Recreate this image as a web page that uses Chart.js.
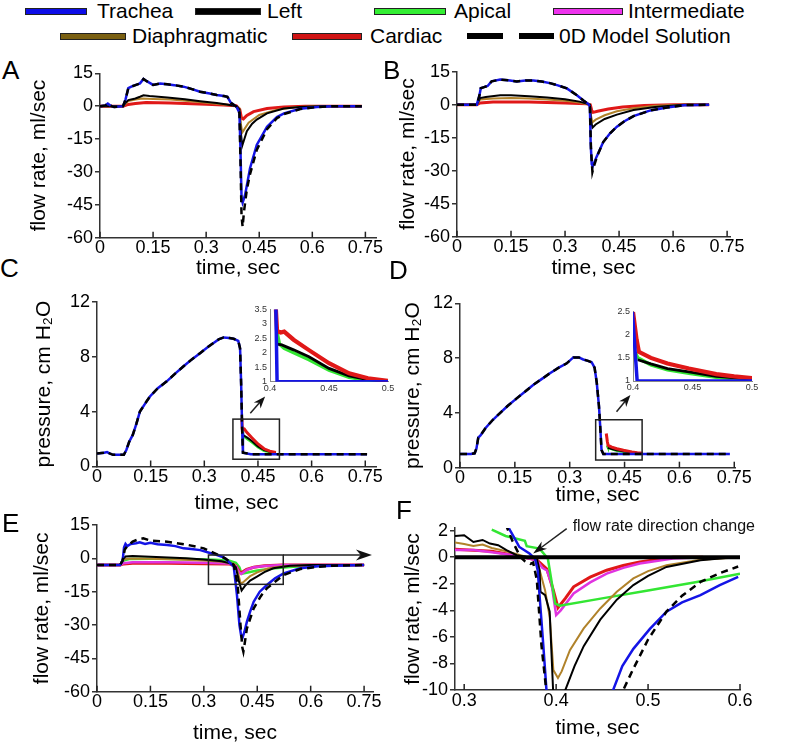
<!DOCTYPE html>
<html>
<head>
<meta charset="utf-8">
<script src="https://cdn.jsdelivr.net/npm/chart.js@4.4.0/dist/chart.umd.min.js"></script>
<style>
  body { margin: 0; background: #fff; }
  #fig { position: relative; width: 800px; height: 744px; overflow: hidden; background: #fff;
         font-family: "Liberation Sans", Arial, sans-serif; color: #000; }
  .panel { position: absolute; }
  .tag { position: absolute; font-size: 26px; line-height: 1; }
  .legtext { position: absolute; font-size: 21px; line-height: 21px; white-space: nowrap; }
  .sw { position: absolute; height: 5px; border: 1px solid #222; }
</style>
</head>
<body>
<div id="fig"></div>
<script>
// ---- legend ----
const seriesNames = ['Trachea', 'Left', 'Apical', 'Intermediate', 'Diaphragmatic', 'Cardiac', '0D Model Solution'];
const legendSwatch = ['#0d0de8', '#000000', '#33ee33', '#ee33ee', '#7a6012', '#d01414', 'dash'];

// ---- A: flow rate, normal breath ----
const aTrachea = [[0,0],[0.015,0.3],[0.022,1.2],[0.03,0.2],[0.04,-0.4],[0.065,0],[0.072,3],[0.08,8.2],[0.09,9],[0.1,9.6],[0.113,10.4],[0.123,12.4],[0.132,11.4],[0.15,9.7],[0.17,10.3],[0.19,10],[0.21,9.6],[0.236,8.9],[0.26,7.8],[0.283,6.6],[0.31,5.8],[0.33,5.1],[0.35,4.6],[0.36,4.3],[0.37,1.5],[0.386,-0.3],[0.394,-3],[0.397,-20],[0.4,-42],[0.403,-44],[0.41,-40.5],[0.424,-28.3],[0.443,-17.7],[0.472,-9.4],[0.5,-5],[0.52,-3.3],[0.566,-1.2],[0.613,-0.4],[0.66,0],[0.74,0]];
const aModel = [[0,0],[0.015,0.3],[0.022,1.2],[0.03,0.2],[0.04,-0.4],[0.065,0],[0.072,3],[0.08,8.2],[0.09,9],[0.1,9.6],[0.113,10.4],[0.123,12.4],[0.132,11.4],[0.15,9.7],[0.17,10.3],[0.19,10],[0.21,9.6],[0.236,8.9],[0.26,7.8],[0.283,6.6],[0.31,5.8],[0.33,5.1],[0.35,4.6],[0.36,4.3],[0.37,1.5],[0.386,-0.3],[0.394,-3],[0.397,-25],[0.4,-50],[0.403,-55],[0.407,-48],[0.415,-38],[0.424,-31],[0.443,-20],[0.472,-10.5],[0.5,-5.5],[0.52,-3.6],[0.566,-1.3],[0.613,-0.4],[0.66,0],[0.74,0]];
const aLeft = [[0,0],[0.065,0],[0.072,1.5],[0.08,2.8],[0.1,3.5],[0.113,4.3],[0.123,5],[0.14,4.6],[0.19,4],[0.24,3.2],[0.283,2.3],[0.33,1.4],[0.358,0.8],[0.386,0],[0.394,-1.5],[0.398,-12],[0.402,-18],[0.408,-15],[0.415,-11.4],[0.43,-8],[0.443,-6.1],[0.472,-3.3],[0.519,-1.1],[0.566,-0.4],[0.62,0],[0.74,0]];
const aDiaph = [[0,0],[0.065,0],[0.08,2.3],[0.1,3],[0.12,3.5],[0.15,3.3],[0.2,3],[0.25,2.4],[0.3,1.6],[0.35,0.8],[0.38,0.3],[0.394,-1],[0.398,-8],[0.402,-12],[0.41,-10],[0.42,-7.5],[0.45,-4],[0.5,-1.6],[0.55,-0.5],[0.6,0],[0.74,0]];
const aCardiac = [[0,0],[0.065,0],[0.08,0.8],[0.1,1.2],[0.13,1.7],[0.2,1.5],[0.3,0.9],[0.35,0.5],[0.385,0.2],[0.395,-1.5],[0.4,-5.5],[0.405,-5.8],[0.415,-4.2],[0.434,-2.5],[0.472,-1.1],[0.52,-0.4],[0.58,0],[0.74,0]];

// ---- B: flow rate, second case ----
const bTrachea = [[0,0],[0.055,0],[0.062,4],[0.066,7.5],[0.075,8],[0.085,8.5],[0.096,10.6],[0.12,11.4],[0.147,11],[0.166,10.6],[0.19,11],[0.212,11],[0.235,10.5],[0.258,9.8],[0.28,8.8],[0.305,7.4],[0.333,4.3],[0.351,1.9],[0.365,0.3],[0.369,-1],[0.371,-17],[0.374,-27],[0.377,-28],[0.388,-23.5],[0.406,-17],[0.425,-13],[0.444,-10],[0.465,-7.5],[0.49,-5.2],[0.537,-2.6],[0.583,-1.3],[0.63,-0.2],[0.7,0]];
const bModel = [[0,0],[0.055,0],[0.062,4],[0.066,7.5],[0.075,8],[0.085,8.5],[0.096,10.6],[0.12,11.4],[0.147,11],[0.166,10.6],[0.19,11],[0.212,11],[0.235,10.5],[0.258,9.8],[0.28,8.8],[0.305,7.4],[0.333,4.3],[0.351,1.9],[0.365,0.3],[0.369,-1],[0.372,-20],[0.376,-30.5],[0.38,-28],[0.39,-23],[0.406,-17],[0.425,-13],[0.444,-10],[0.465,-7.5],[0.49,-5.2],[0.537,-2.6],[0.583,-1.3],[0.63,-0.2],[0.7,0]];
const bLeft = [[0,0],[0.055,0],[0.064,3],[0.08,3.5],[0.12,4.3],[0.15,4.3],[0.2,3.8],[0.25,3.3],[0.3,2.5],[0.34,1.4],[0.36,0.5],[0.369,0],[0.372,-7],[0.376,-10.5],[0.385,-9],[0.41,-6.5],[0.444,-4.5],[0.49,-2.4],[0.55,-1],[0.63,0],[0.7,0]];
const bDiaph = [[0,0],[0.055,0],[0.064,2.4],[0.1,2.8],[0.15,3],[0.2,2.8],[0.25,2.4],[0.3,1.8],[0.34,1],[0.369,0],[0.372,-5],[0.376,-8],[0.385,-6.8],[0.41,-4.8],[0.444,-3],[0.49,-1.6],[0.55,-0.5],[0.62,0],[0.7,0]];
const bCardiac = [[0,0],[0.055,0],[0.064,0.8],[0.1,1.2],[0.2,1.2],[0.3,0.8],[0.36,0.4],[0.37,0],[0.374,-2.5],[0.378,-3.5],[0.39,-3],[0.42,-2],[0.46,-1],[0.52,-0.4],[0.6,0],[0.7,0]];

// ---- C: pressure + inset ----
const cPressure = [[0,0.95],[0.02,1.0],[0.028,1.05],[0.035,0.95],[0.045,0.85],[0.075,0.85],[0.082,1.2],[0.09,1.8],[0.1,2.3],[0.11,3.1],[0.12,4.0],[0.135,4.6],[0.148,5.1],[0.17,5.7],[0.195,6.2],[0.22,6.8],[0.242,7.3],[0.265,7.8],[0.288,8.25],[0.31,8.7],[0.326,9.0],[0.34,9.25],[0.354,9.4],[0.37,9.35],[0.382,9.3],[0.395,9.15],[0.4,8.6],[0.403,6],[0.406,2.5],[0.408,1.0],[0.43,0.9],[0.755,0.9]];
const cInTrachea = [[0.405,3.5],[0.406,1],[0.5,1]];
const cInCardiac = [[0.405,3.5],[0.406,2.75],[0.409,2.7],[0.412,2.73],[0.42,2.45],[0.433,2.09],[0.45,1.64],[0.467,1.29],[0.483,1.12],[0.5,1.03]];
const cInLeft = [[0.406,2.3],[0.41,2.27],[0.42,2.1],[0.433,1.86],[0.45,1.46],[0.467,1.2],[0.483,1.07],[0.5,1.02]];
const cInApical = [[0.406,2.7],[0.408,2.3],[0.412,2.15],[0.42,2.0],[0.433,1.76],[0.45,1.4],[0.467,1.15],[0.483,1.05],[0.5,1.01]];

// ---- D: pressure + inset ----
const dPressure = [[0,1.0],[0.03,1.0],[0.04,1.05],[0.045,1.4],[0.05,2.2],[0.056,2.35],[0.07,2.9],[0.09,3.5],[0.11,4.0],[0.13,4.5],[0.155,5.06],[0.18,5.6],[0.2,6.04],[0.225,6.5],[0.246,6.9],[0.27,7.3],[0.291,7.6],[0.31,8.05],[0.325,8.05],[0.337,7.9],[0.35,7.8],[0.36,7.7],[0.368,7.3],[0.374,6.2],[0.38,4.5],[0.383,3.2],[0.387,1.3],[0.392,1.0],[0.738,1.0]];
const dInTrachea = [[0.3995,2.5],[0.4035,1],[0.5,1]];
const dInCardiac = [[0.4,2.5],[0.403,1.9],[0.405,1.63],[0.415,1.5],[0.429,1.38],[0.447,1.27],[0.47,1.15],[0.485,1.1],[0.5,1.06]];
const dInLeft = [[0.404,1.46],[0.415,1.37],[0.429,1.27],[0.447,1.2],[0.47,1.1],[0.5,1.04]];
const dInApical = [[0.402,1.62],[0.404,1.5],[0.415,1.35],[0.429,1.24],[0.447,1.17],[0.47,1.08],[0.5,1.02]];

// ---- E: flow rate, all lobes ----
const eTrachea = [[0,-3],[0.065,-3],[0.072,-1],[0.076,5],[0.08,6.5],[0.085,5.5],[0.095,6.5],[0.11,6.8],[0.12,7.2],[0.135,6.5],[0.15,7],[0.17,6.3],[0.197,6],[0.22,5.5],[0.243,4.5],[0.265,4.2],[0.29,3.7],[0.315,2.5],[0.337,1.5],[0.355,0.5],[0.365,-0.75],[0.384,-3.7],[0.393,-16.5],[0.4,-30],[0.405,-35],[0.408,-36],[0.414,-33],[0.421,-28.5],[0.43,-24],[0.44,-19.5],[0.457,-15],[0.477,-12],[0.5,-9],[0.524,-6.75],[0.571,-4.5],[0.62,-3.6],[0.665,-3.3],[0.75,-3]];
const eModel = [[0,-3],[0.065,-3],[0.072,-1],[0.078,4],[0.085,5.5],[0.1,7.5],[0.115,8.5],[0.13,9],[0.15,8],[0.197,7.5],[0.25,6.2],[0.3,4.5],[0.337,1.8],[0.36,0],[0.384,-3],[0.395,-12],[0.403,-30],[0.408,-40],[0.411,-42],[0.415,-38],[0.421,-31.5],[0.44,-22.5],[0.46,-17],[0.477,-13.5],[0.5,-10.5],[0.524,-7.5],[0.571,-4.8],[0.62,-3.8],[0.665,-3.3],[0.75,-3]];
const eLeft = [[0,-3],[0.065,-3],[0.072,-0.5],[0.08,0.8],[0.1,1.0],[0.15,0.7],[0.2,0.4],[0.25,0],[0.3,-0.5],[0.35,-1.3],[0.38,-2.5],[0.39,-4],[0.398,-10],[0.406,-14.5],[0.415,-12.5],[0.43,-10],[0.448,-8.3],[0.47,-6.2],[0.495,-4.5],[0.542,-3.3],[0.6,-3],[0.75,-3]];
const eDiaph = [[0,-3],[0.065,-3],[0.072,-1],[0.08,-0.2],[0.12,-0.1],[0.2,-0.4],[0.3,-1],[0.35,-1.5],[0.385,-2.5],[0.395,-6],[0.404,-11.5],[0.412,-10.5],[0.43,-8],[0.45,-6.3],[0.48,-4.6],[0.52,-3.6],[0.6,-3],[0.75,-3]];
const eApical = [[0,-3],[0.065,-3],[0.075,-1],[0.09,-0.3],[0.15,-0.2],[0.25,-0.3],[0.33,-0.6],[0.37,-1],[0.39,-2],[0.4,-4],[0.406,-7],[0.42,-6.5],[0.45,-5.5],[0.5,-4.5],[0.55,-3.8],[0.6,-3.4],[0.75,-3]];
const eInter = [[0,-3],[0.065,-3],[0.075,-2.2],[0.1,-1.8],[0.2,-1.8],[0.3,-2],[0.37,-2.3],[0.39,-3.5],[0.4,-6.5],[0.405,-7],[0.42,-5.2],[0.44,-4],[0.47,-3.4],[0.52,-3],[0.75,-3]];
const eCardiac = [[0,-3],[0.065,-3],[0.075,-2.5],[0.1,-2.2],[0.2,-2.2],[0.3,-2.4],[0.37,-2.5],[0.39,-3.5],[0.4,-6],[0.405,-6.5],[0.42,-5],[0.44,-4],[0.47,-3.3],[0.52,-3],[0.75,-3]];

// ---- F: zoom of E around the direction change ----
const fZero = [[0.29,0],[0.6,0]];
const fTrachea = [[0.346,2.5],[0.355,1.4],[0.36,0.77],[0.371,0.28],[0.377,-0.1],[0.38,-1],[0.382,-2.9],[0.386,-6.6],[0.39,-10.5],[0.396,-30],[0.403,-44],[0.41,-40.5],[0.424,-28.3],[0.443,-17.7],[0.462,-10],[0.472,-8.2],[0.484,-6.9],[0.502,-5.4],[0.52,-4.1],[0.537,-3.4],[0.557,-2.86],[0.578,-2.1],[0.598,-1.48]];
const fModel = [[0.345,2.5],[0.352,1.3],[0.361,0.02],[0.366,-0.3],[0.372,-0.5],[0.375,-0.4],[0.379,-1.7],[0.384,-6.6],[0.39,-10.5],[0.4,-40],[0.41,-50],[0.43,-30],[0.46,-14],[0.473,-10],[0.484,-8.4],[0.5,-6.2],[0.52,-4.1],[0.537,-2.9],[0.557,-1.86],[0.578,-1.2],[0.598,-0.7]];
const fLeft = [[0.29,1.6],[0.3,1.65],[0.31,1.15],[0.32,1.3],[0.328,1.03],[0.337,0.9],[0.346,0.53],[0.357,0.15],[0.368,0.02],[0.379,-0.1],[0.382,-1.0],[0.383,-2.6],[0.388,-2.86],[0.393,-4.1],[0.397,-10.5],[0.402,-18],[0.407,-15],[0.41,-10],[0.42,-8.2],[0.43,-6.7],[0.448,-4.7],[0.466,-3.2],[0.484,-2.1],[0.5,-1.4],[0.52,-0.73],[0.557,-0.23],[0.593,0]];
const fDiaph = [[0.29,1.1],[0.3,1.0],[0.31,0.85],[0.32,0.95],[0.33,0.7],[0.346,0.45],[0.368,0.02],[0.379,-0.15],[0.383,-1.2],[0.388,-2.5],[0.393,-4.5],[0.397,-8.5],[0.402,-9.1],[0.406,-8.6],[0.415,-7],[0.43,-5.36],[0.448,-3.86],[0.466,-2.6],[0.484,-1.6],[0.5,-1.05],[0.52,-0.6],[0.557,-0.2],[0.6,0]];
const fInter = [[0.29,0.55],[0.31,0.55],[0.328,0.4],[0.354,0.15],[0.379,-0.23],[0.385,-0.8],[0.39,-1.0],[0.395,-2],[0.4,-4.36],[0.405,-4.0],[0.419,-2.73],[0.437,-1.9],[0.455,-1.23],[0.473,-0.8],[0.491,-0.47],[0.527,-0.1],[0.56,0]];
const fCardiac = [[0.29,0.6],[0.33,0.45],[0.354,0.15],[0.379,-0.2],[0.39,-0.9],[0.397,-2.5],[0.402,-3.8],[0.41,-3.1],[0.419,-2.23],[0.437,-1.5],[0.455,-0.98],[0.473,-0.62],[0.491,-0.35],[0.527,0],[0.56,0]];
const fApical = [[0.33,2.08],[0.345,1.6],[0.366,1.23],[0.368,0.83],[0.382,0.65],[0.391,-0.1],[0.399,-3.5],[0.404,-3.65],[0.45,-3.1],[0.5,-2.5],[0.55,-1.9],[0.6,-1.25]];

const STYLE = {
  tr:   { color: '#1414e6', w: 2.5 },
  left: { color: '#000000', w: 2 },
  api:  { color: '#33e633', w: 2.5 },
  int:  { color: '#e033e0', w: 2.5 },
  dia:  { color: '#b0822a', w: 2 },
  car:  { color: '#e01818', w: 3 },
  od:   { color: '#000000', w: 2.5, dash: [7, 5] },
  zero: { color: '#000000', w: 4 }
};

Chart.defaults.font.family = '"Liberation Sans", Arial, sans-serif';
Chart.defaults.color = '#000';

const fig = document.getElementById('fig');

// plain tick text: 0.15 stays 0.15, 0.4 stays 0.4
const tickText = v => String(Math.round(v * 1000) / 1000);

// boxes, arrows, text, inward x ticks -- all placed through the chart's scales
const marksPlugin = {
  id: 'marks',
  afterDatasetsDraw(chart, args, o) {
    const { ctx, chartArea: ca } = chart;
    const xs = chart.scales.x, ys = chart.scales.y;
    const X = v => xs.getPixelForValue(v), Y = v => ys.getPixelForValue(v);
    ctx.save();
    ctx.strokeStyle = '#222';
    ctx.fillStyle = '#111';
    ctx.lineWidth = 1.5;
    if (o.inTicks) {
      xs.ticks.forEach(t => {
        const px = X(t.value);
        ctx.beginPath(); ctx.moveTo(px, ca.bottom); ctx.lineTo(px, ca.bottom - 6); ctx.stroke();
      });
    }
    (o.boxes || []).forEach(([x0, x1, y0, y1]) => {
      ctx.strokeRect(X(x0), Y(y1), X(x1) - X(x0), Y(y0) - Y(y1));
    });
    (o.arrows || []).forEach(([x0, y0, x1, y1, len, wid]) => {
      const ax = X(x0), ay = Y(y0), bx = X(x1), by = Y(y1);
      const ang = Math.atan2(by - ay, bx - ax);
      ctx.beginPath();
      ctx.moveTo(ax, ay);
      ctx.lineTo(bx - Math.cos(ang) * len * 0.6, by - Math.sin(ang) * len * 0.6);
      ctx.stroke();
      ctx.save();
      ctx.translate(bx, by);
      ctx.rotate(ang);
      ctx.beginPath();
      ctx.moveTo(0, 0);
      ctx.lineTo(-len, -wid / 2);
      ctx.lineTo(-len * 0.7, 0);
      ctx.lineTo(-len, wid / 2);
      ctx.closePath();
      ctx.fill();
      ctx.restore();
    });
    (o.texts || []).forEach(([txt, x, y, size]) => {
      ctx.font = size + 'px "Liberation Sans", Arial, sans-serif';
      ctx.textAlign = 'left';
      ctx.textBaseline = 'middle';
      ctx.fillText(txt, X(x), Y(y));
    });
    ctx.restore();
  }
};

function makePanel(p) {
  const inset = !!p.inset;
  const left = Math.round(inset ? p.l - 22 : p.yTitleX - 12.6);
  const top = Math.round(p.t - (p.padT || 20));
  const right = Math.round(p.r + (inset ? 12 : 30));
  const bottom = Math.round(inset ? p.b + 15 : p.xTitleY + 12.6);
  const w = right - left, h = bottom - top;
  const yW = p.l - left, xH = bottom - p.b;
  const padT = p.t - top, padR = right - p.r;

  const wrap = document.createElement('div');
  wrap.className = 'panel';
  Object.assign(wrap.style, { left: left + 'px', top: top + 'px', width: w + 'px', height: h + 'px' });
  const cv = document.createElement('canvas');
  cv.width = w; cv.height = h;
  wrap.appendChild(cv);
  fig.appendChild(wrap);

  const axisColor = inset ? '#888' : '#333';
  const tickSize = inset ? 9 : 18;

  new Chart(cv, {
    type: 'line',
    data: {
      datasets: p.series.map(([key, pts]) => ({
        label: key,
        data: pts.map(([x, y]) => ({ x, y })),
        borderColor: STYLE[key].color,
        borderWidth: STYLE[key].w * (inset ? 1.4 : 1),
        borderDash: STYLE[key].dash || [],
        pointRadius: 0,
        tension: 0,
        fill: false
      }))
    },
    options: {
      responsive: false,
      animation: false,
      events: [],
      layout: { padding: { left: 0, top: padT, right: padR, bottom: 0 } },
      plugins: { legend: { display: false }, tooltip: { enabled: false }, marks: p.marks || {} },
      scales: {
        x: {
          type: 'linear', min: p.x[0], max: p.x[1],
          border: { color: axisColor, width: inset ? 1 : 1.5 },
          grid: { display: false, drawTicks: false },
          ticks: { stepSize: p.x[2], includeBounds: false, autoSkip: false, maxRotation: 0, callback: tickText,
                   font: { size: tickSize }, color: inset ? '#333' : '#000', padding: inset ? 1 : 0 },
          title: { display: !inset, text: 'time, sec', font: { size: 21 }, padding: 0 },
          afterFit: s => { s.height = xH; }
        },
        y: {
          type: 'linear', min: p.y[0], max: p.y[1],
          border: { color: axisColor, width: inset ? 1 : 1.5 },
          grid: inset ? { display: false, drawTicks: false }
                      : { drawOnChartArea: false, drawTicks: true, tickLength: 5, color: '#333', lineWidth: 1.5 },
          ticks: { stepSize: p.y[2], includeBounds: false, autoSkip: false, callback: tickText,
                   font: { size: tickSize }, color: inset ? '#333' : '#000', padding: inset ? 3 : 2 },
          title: { display: !inset, text: p.yTitle, font: { size: 21 }, padding: 0 },
          afterFit: s => { s.width = yW; }
        }
      }
    },
    plugins: [marksPlugin]
  });
}

const FLOW = 'flow rate, ml/sec', PRESS = 'pressure, cm H\u2082O';

makePanel({ l: 100, t: 73.3, r: 376, b: 237.7, yTitleX: 40, xTitleY: 268, yTitle: FLOW,
  x: [0, 0.78, 0.15], y: [-60, 15, 15], marks: { inTicks: true },
  series: [['od', aModel], ['tr', aTrachea], ['left', aLeft], ['dia', aDiaph], ['car', aCardiac]] });

makePanel({ l: 457, t: 71.7, r: 730, b: 236.7, yTitleX: 409, xTitleY: 268, yTitle: FLOW,
  x: [0, 0.758, 0.15], y: [-60, 15, 15], marks: { inTicks: true },
  series: [['od', bModel], ['tr', bTrachea], ['left', bLeft], ['dia', bDiaph], ['car', bCardiac]] });

makePanel({ l: 97, t: 301.7, r: 376, b: 466.5, yTitleX: 45, xTitleY: 503, yTitle: PRESS,
  x: [0, 0.78, 0.15], y: [0, 12, 4],
  marks: { inTicks: true, boxes: [[0.38, 0.51, 0.53, 3.45]], arrows: [[0.4286, 3.88, 0.47, 5.1, 12, 9]] },
  series: [['od', cPressure], ['tr', cPressure], ['car', cInCardiac], ['left', cInLeft], ['api', cInApical]] });

makePanel({ inset: true, l: 270, t: 309.3, r: 388, b: 381.7, x: [0.4, 0.5, 0.05], y: [1, 3.5, 0.5],
  series: [['tr', cInTrachea], ['car', cInCardiac], ['left', cInLeft], ['api', cInApical]] });

makePanel({ l: 460, t: 303.3, r: 735, b: 467.7, yTitleX: 414, xTitleY: 495, yTitle: PRESS,
  x: [0, 0.752, 0.15], y: [0, 12, 4],
  marks: { inTicks: true, boxes: [[0.371, 0.498, 0.56, 3.5]], arrows: [[0.428, 4.09, 0.466, 5.31, 12, 9]] },
  series: [['od', dPressure], ['tr', dPressure], ['car', dInCardiac], ['left', dInLeft], ['api', dInApical]] });

makePanel({ inset: true, l: 633, t: 311.7, r: 752, b: 381, x: [0.4, 0.5, 0.05], y: [1, 2.5, 0.5],
  series: [['tr', dInTrachea], ['car', dInCardiac], ['left', dInLeft], ['api', dInApical]] });

makePanel({ l: 97, t: 525, r: 373, b: 691.7, yTitleX: 43, xTitleY: 733, yTitle: FLOW,
  x: [0, 0.775, 0.15], y: [-60, 15, 15],
  marks: { inTicks: true, boxes: [[0.313, 0.523, -11.7, 1.5]], arrows: [[0.523, 1.5, 0.772, 1.5, 16, 11]] },
  series: [['od', eModel], ['tr', eTrachea], ['left', eLeft], ['dia', eDiaph], ['int', eInter], ['car', eCardiac], ['api', eApical]] });

makePanel({ l: 455, t: 528, r: 740, b: 690, padT: 26, yTitleX: 414, xTitleY: 728, yTitle: FLOW,
  x: [0.29, 0.6, 0.1], y: [-10, 2.2, 2],
  marks: { inTicks: true, arrows: [[0.4115, 2.16, 0.375, 0.28, 14, 9]],
           texts: [['flow rate direction change', 0.418, 2.28, 16]] },
  series: [['zero', fZero], ['od', fModel], ['tr', fTrachea], ['left', fLeft], ['dia', fDiaph], ['api', fApical], ['int', fInter], ['car', fCardiac]] });

// panel letters
[['A', 2, 57], ['B', 383, 57], ['C', 0, 255], ['D', 389, 257], ['E', 2, 510], ['F', 396, 497]].forEach(([t, x, y]) => {
  const d = document.createElement('div');
  d.className = 'tag'; d.textContent = t;
  d.style.left = x + 'px'; d.style.top = y + 'px';
  fig.appendChild(d);
});

// legend: [swatch x, swatch width, text x, row centre y]
const legendPos = [[25, 60, 97, 11], [195, 64, 267, 11], [374, 70, 454, 11], [553, 68, 628, 11],
                   [60, 64, 132, 36], [292, 68, 370, 36], [467, 87, 559, 36]];
seriesNames.forEach((name, i) => {
  const [sx, sw, tx, cy] = legendPos[i];
  const s = document.createElement('div');
  s.className = 'sw';
  s.style.left = sx + 'px'; s.style.top = (cy - 3) + 'px'; s.style.width = sw + 'px';
  if (legendSwatch[i] === 'dash') {
    s.style.border = 'none';
    s.style.height = '6px';
    s.style.background = 'repeating-linear-gradient(90deg, #000 0 36px, transparent 36px 52px)';
  } else {
    s.style.background = legendSwatch[i];
  }
  fig.appendChild(s);
  const t = document.createElement('div');
  t.className = 'legtext';
  t.textContent = name;
  t.style.left = tx + 'px'; t.style.top = (cy - 11) + 'px';
  fig.appendChild(t);
});
</script>
</body>
</html>
